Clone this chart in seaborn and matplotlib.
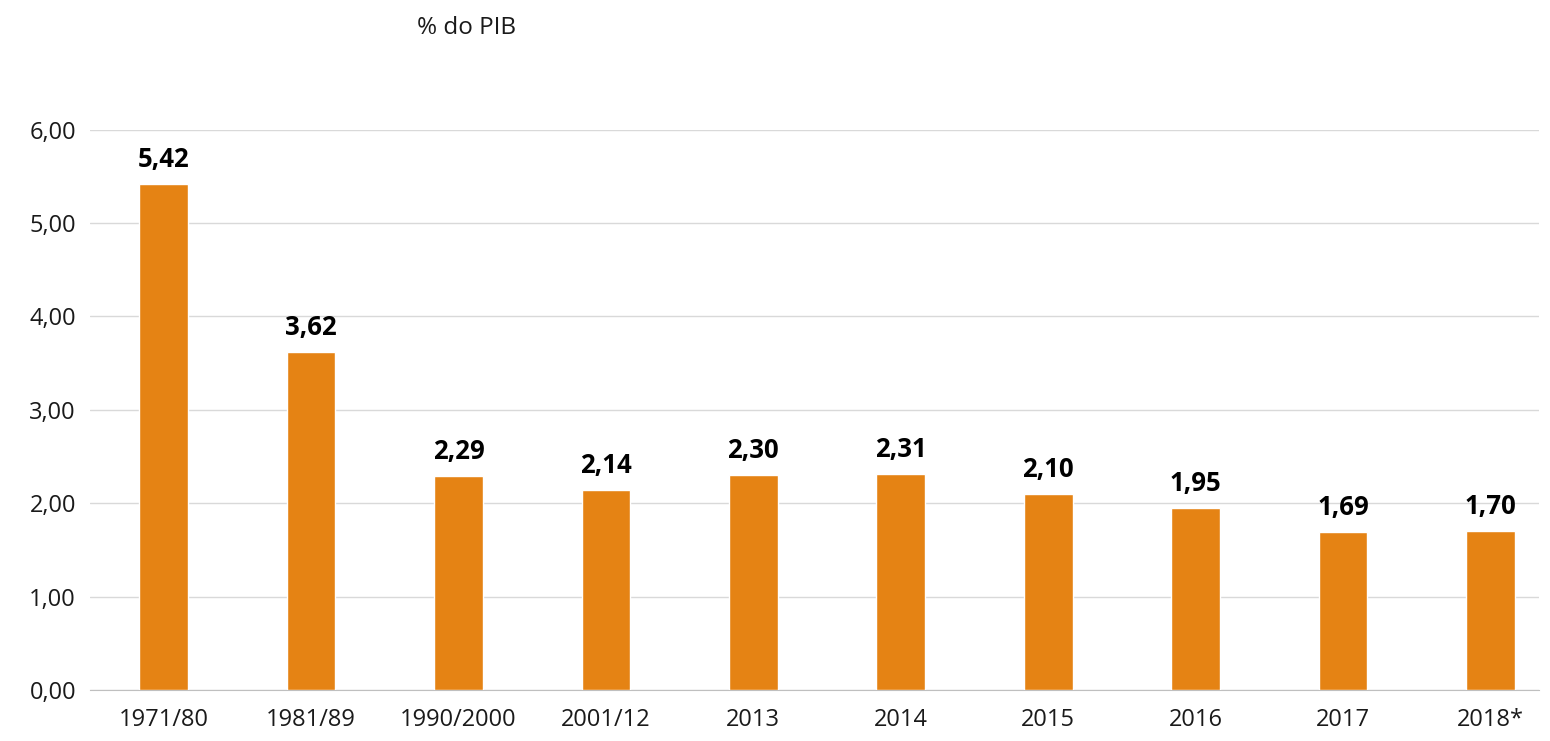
import matplotlib
matplotlib.use("Agg")
import matplotlib.pyplot as plt
import seaborn as sns
import pandas as pd

# data
categories = ["1971/80", "1981/89", "1990/2000", "2001/12", "2013", "2014", "2015", "2016", "2017", "2018*"]
values = [5.42, 3.62, 2.29, 2.14, 2.30, 2.31, 2.10, 1.95, 1.69, 1.70]
yticks = [0, 1, 2, 3, 4, 5, 6]

df = pd.DataFrame({"periodo": categories, "valor": values})

sns.set_style("white")
plt.rcParams["font.family"] = ["Open Sans", "DejaVu Sans"]

fig = plt.figure(figsize=(15.5, 7.41), dpi=100)
ax = fig.add_axes([0.058, 0.069, 0.935, 0.756])

sns.barplot(data=df, x="periodo", y="valor", color="#E58314", saturation=1,
            width=0.33, ax=ax, zorder=3)

def fmt(v):
    return "{:.2f}".format(v).replace(".", ",")

for i, v in enumerate(values):
    ax.text(i, v + 0.12, fmt(v), ha="center", va="bottom",
            fontsize=18.5, fontweight="bold", color="black")

ax.set_ylim(0, 6)
ax.set_yticks(yticks)
ax.set_yticklabels([fmt(t) for t in yticks], fontsize=17)
ax.tick_params(axis="x", labelsize=17, length=0, pad=13, labelcolor="#1a1a1a")
ax.tick_params(axis="y", length=0, pad=10, labelcolor="#1a1a1a")
ax.set_xlabel("")
ax.set_ylabel("")
ax.grid(axis="y", color="#D9D9D9", linewidth=1, zorder=0)
for s in ["top", "right", "left"]:
    ax.spines[s].set_visible(False)
ax.spines["bottom"].set_color("#BFBFBF")
ax.set_xlim(-0.50, 9.33)

fig.text(0.301, 0.962, "% do PIB", ha="center", va="center", fontsize=17.5,
         color="#1a1a1a")

fig.savefig("out.png", dpi=100)
